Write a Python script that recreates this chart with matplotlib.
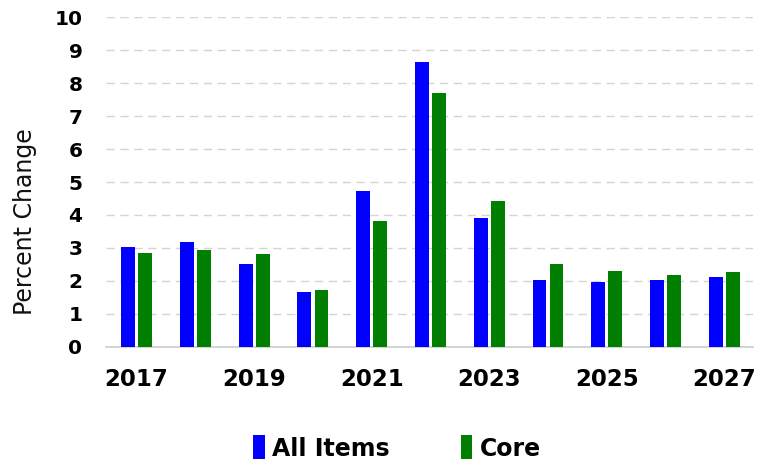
import matplotlib
matplotlib.use("Agg")
import matplotlib.pyplot as plt
import numpy as np

years = [2017, 2018, 2019, 2020, 2021, 2022, 2023, 2024, 2025, 2026, 2027]
all_items = [3.04, 3.18, 2.50, 1.67, 4.74, 8.64, 3.92, 2.02, 1.97, 2.02, 2.11]
core = [2.84, 2.94, 2.80, 1.71, 3.82, 7.70, 4.41, 2.50, 2.31, 2.17, 2.26]
xtick_labels = ["2017", "2019", "2021", "2023", "2025", "2027"]
yticks = list(range(0, 11))

fig = plt.figure(figsize=(7.63, 4.59), dpi=100)
ax = fig.add_axes([0.139, 0.2447, 0.848, 0.7175])

x = np.array(years, dtype=float)
w = 0.235
off = 0.145
ax.bar(x - off, all_items, width=w, color="#0000FF", label="All Items", zorder=3)
ax.bar(x + off, core, width=w, color="#007F00", label="Core", zorder=3)

ax.set_xlim(2016.48, 2027.49)
ax.set_ylim(0, 10)
ax.set_yticks(yticks)
ax.set_xticks([int(s) for s in xtick_labels])
ax.set_xticklabels(xtick_labels)

for s in ["top", "right", "left"]:
    ax.spines[s].set_visible(False)
ax.spines["bottom"].set_color("#cccccc")
ax.spines["bottom"].set_linewidth(1.2)

ax.yaxis.grid(True, linestyle=(0, (6, 4)), color="#d4d4d4", linewidth=1.0, zorder=0)
ax.tick_params(axis="both", length=0)
ax.tick_params(axis="y", pad=17, labelsize=14.5)
ax.tick_params(axis="x", pad=15, labelsize=16.5)
for lab in ax.get_yticklabels() + ax.get_xticklabels():
    lab.set_fontweight("bold")
    lab.set_color("#000000")

fig.text(25 / 763, 1 - 222 / 459, "Percent Change", rotation=90,
         ha="center", va="center", fontsize=17, color="#111111")

leg = fig.legend(loc="center", bbox_to_anchor=(397 / 763, 1 - 448 / 459),
                 ncol=2, frameon=False, handlelength=0.5, handleheight=1.2,
                 handletextpad=0.3, columnspacing=3.0,
                 prop={"weight": "bold", "size": 17})
for t in leg.get_texts():
    t.set_color("#000000")

fig.savefig("out.png", dpi=100)
